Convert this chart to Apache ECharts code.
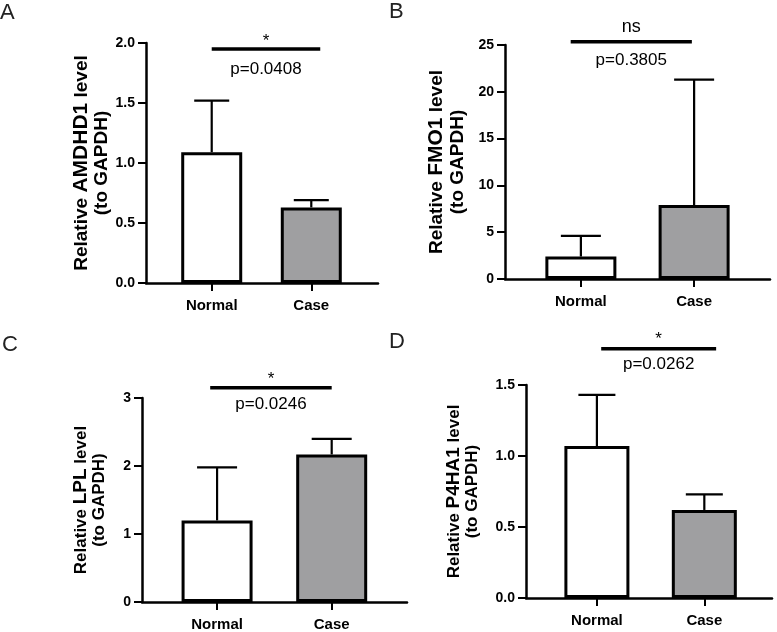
<!DOCTYPE html>
<html><head><meta charset="utf-8">
<script src="https://cdn.jsdelivr.net/npm/echarts@6/dist/echarts.min.js"></script>
<style>html,body{margin:0;padding:0;background:#fff}#c{width:777px;height:632px}</style>
</head><body><div id="c"></div>
<script>
// ---- data ----
const categories = ['Normal', 'Case'];
const genes = ['AMDHD1', 'FMO1', 'LPL', 'P4HA1'];
const panelLetters = ['A', 'B', 'C', 'D'];
const meanA = [1.09, 0.63];  const upperA = [1.52, 0.69];
const meanB = [2.4, 7.9];    const upperB = [4.6, 21.3];
const meanC = [1.2, 2.17];   const upperC = [1.98, 2.4];
const meanD = [1.07, 0.62];  const upperD = [1.43, 0.73];
const yMaxes = [2, 25, 3, 1.5];
const ySteps = [0.5, 5, 1, 0.5];
const yDecimals = [1, 0, 0, 1];
const sigMarks = ['*', 'ns', '*', '*'];
const pValues = ['p=0.0408', 'p=0.3805', 'p=0.0246', 'p=0.0262'];

const means = [meanA, meanB, meanC, meanD];
const uppers = [upperA, upperB, upperC, upperD];

// ---- layout / style ----
const FONT = '"Liberation Sans", Arial, Helvetica, sans-serif';
const W = 777, H = 632;
const layout = [
  {left:146, right:W-378, top:43,  bottom:H-283, xMin:-0.66,  xMax:1.67,  barW:61, cap:35, nameGap:34, ts:19, gs:21, lh:20, sig:{x0:0,     x1:1.09, y:1.95},  markDy:-8,  pDy:20, letter:{left:0,   top:2}},
  {left:505, right:W-770, top:45,  bottom:H-279, xMin:-0.67,  xMax:1.67,  barW:71, cap:40, nameGap:37, ts:19, gs:21, lh:21, sig:{x0:-0.09, x1:0.98, y:25.35}, markDy:-15, pDy:19, letter:{left:389, top:1}},
  {left:142, right:W-407, top:398, bottom:H-603, xMin:-0.655, xMax:1.657, barW:71, cap:40, nameGap:34, ts:17, gs:19, lh:18, sig:{x0:-0.06, x1:1.0,  y:3.15},  markDy:-8,  pDy:17, letter:{left:2,   top:334}},
  {left:526, right:W-772, top:385, bottom:H-598, xMin:-0.66,  xMax:1.63,  barW:65, cap:37, nameGap:45, ts:17, gs:19, lh:18, sig:{x0:0.04,  x1:1.11, y:1.755}, markDy:-9,  pDy:16, letter:{left:389, top:331}}
];
const fills = ['#ffffff', '#9f9fa1'];
const axisLine = {color:'#000', width:2.5};

const grids = [], xAxes = [], yAxes = [], series = [], titles = [];
layout.forEach((L, i) => {
  grids.push({left:L.left, right:L.right, top:L.top, bottom:L.bottom, containLabel:false});
  xAxes.push({
    gridIndex:i, type:'value', min:L.xMin, max:L.xMax,
    splitLine:{show:false},
    axisLine:{show:true, onZero:false, lineStyle:axisLine},
    axisTick:{show:true, customValues:[0, 1], length:8, lineStyle:{color:'#000', width:2}},
    axisLabel:{show:true, customValues:[0, 1], formatter:v => categories[Math.round(v)] || '', margin:15,
      fontSize:15, fontWeight:'bold', color:'#000', fontFamily:FONT}
  });
  yAxes.push({
    gridIndex:i, type:'value', min:0, max:yMaxes[i], interval:ySteps[i],
    splitLine:{show:false},
    axisLine:{show:true, onZero:false, lineStyle:axisLine},
    axisTick:{show:true, length:8, lineStyle:{color:'#000', width:2}},
    axisLabel:{margin:11, fontSize:14, fontWeight:'bold', color:'#000', fontFamily:FONT,
      formatter:v => v.toFixed(yDecimals[i])},
    name:'Relative {g|' + genes[i] + '} level\n(to GAPDH)',
    nameLocation:'middle', nameRotate:90, nameGap:L.nameGap,
    nameTextStyle:{fontSize:L.ts, fontWeight:'bold', color:'#000', fontFamily:FONT, lineHeight:L.lh,
      rich:{g:{fontSize:L.gs, fontWeight:'bold', color:'#000', fontFamily:FONT, lineHeight:L.lh}}}
  });
  series.push({
    type:'bar', xAxisIndex:i, yAxisIndex:i, barWidth:L.barW, z:2,
    itemStyle:{borderColor:'#000', borderWidth:3},
    data: categories.map((c, k) => ({value:[k, means[i][k]], itemStyle:{color:fills[k]}}))
  });
  series.push({
    type:'custom', xAxisIndex:i, yAxisIndex:i, z:3, clip:false,
    encode:{x:0, y:[1, 2]},
    data: categories.map((c, k) => [k, means[i][k], uppers[i][k]]),
    renderItem:(params, api) => {
      const x = api.value(0), m = api.value(1), u = api.value(2);
      const a = api.coord([x, m]), b = api.coord([x, u]);
      const st = {stroke:'#000', lineWidth:2.2};
      return {type:'group', children:[
        {type:'line', shape:{x1:a[0], y1:a[1], x2:b[0], y2:b[1]}, style:st},
        {type:'line', shape:{x1:b[0]-L.cap/2, y1:b[1], x2:b[0]+L.cap/2, y2:b[1]}, style:st}
      ]};
    }
  });
  series.push({
    type:'custom', xAxisIndex:i, yAxisIndex:i, z:4, clip:false, silent:true,
    encode:{x:[0, 2], y:1},
    data:[[L.sig.x0, L.sig.y, L.sig.x1]],
    renderItem:(params, api) => {
      const a = api.coord([api.value(0), api.value(1)]);
      const b = api.coord([api.value(2), api.value(1)]);
      const cx = (a[0] + b[0]) / 2;
      const isNs = sigMarks[i] === 'ns';
      return {type:'group', children:[
        {type:'line', shape:{x1:a[0], y1:a[1], x2:b[0], y2:b[1]}, style:{stroke:'#000', lineWidth:3.5}},
        {type:'text', style:{text:sigMarks[i], x:cx, y:a[1] + L.markDy, align:'center', verticalAlign:'middle',
          fontSize:isNs ? 18 : 17, fontFamily:FONT, fill:'#000'}},
        {type:'text', style:{text:pValues[i], x:cx, y:a[1] + L.pDy, align:'center', verticalAlign:'middle',
          fontSize:17, fontFamily:FONT, fill:'#000'}}
      ]};
    }
  });
  titles.push({text:panelLetters[i], left:L.letter.left, top:L.letter.top, padding:0,
    textStyle:{fontSize:22, fontWeight:'normal', color:'#222', fontFamily:FONT}});
});

const chart = echarts.init(document.getElementById('c'), null, {renderer:'canvas'});
chart.setOption({
  backgroundColor:'#fff', animation:false,
  textStyle:{fontFamily:FONT},
  title:titles, grid:grids, xAxis:xAxes, yAxis:yAxes, series:series
});
</script>
</body></html>
